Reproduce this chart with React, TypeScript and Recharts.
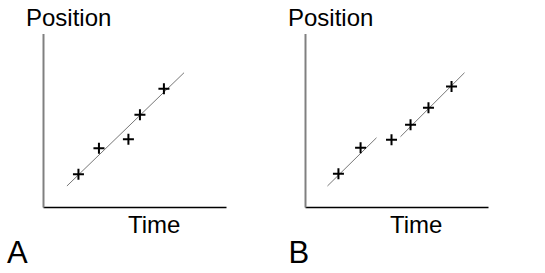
import React from 'react';
import { ComposedChart, Scatter, XAxis, YAxis, Label } from 'recharts';

// Panel A: measured points (time, position) and fitted line
const timeA = [1.91, 3.03, 4.64, 5.27, 6.58];
const posA = [1.91, 3.41, 3.93, 5.35, 6.85];
const fitTimeA = [1.28, 7.68];
const fitPosA = [1.24, 7.77];

// Panel B: measured points and two fitted segments
const timeB = [1.8, 3.01, 4.7, 5.74, 6.72, 7.98];
const posB = [1.94, 3.44, 3.9, 4.77, 5.75, 6.97];
const fitTimeB1 = [1.2, 3.88];
const fitPosB1 = [1.24, 4.02];
const fitTimeB2 = [5.19, 8.69];
const fitPosB2 = [4.08, 7.77];

const xLabel = 'Time';
const yLabel = 'Position';

const zip = (xs: number[], ys: number[]) => xs.map((x, i) => ({ t: x, p: ys[i] }));

const FONT = '"Liberation Sans", Arial, sans-serif';

const Plus = (props: any) => {
  const { cx, cy } = props;
  if (cx == null || cy == null) return <g />;
  return (
    <path
      d={`M${cx - 5.5},${cy}h11M${cx},${cy - 5.5}v11`}
      stroke="#000"
      strokeWidth={2}
      fill="none"
    />
  );
};

const NoShape = () => <g />;

type PanelProps = {
  points: { t: number; p: number }[];
  fits: { t: number; p: number }[][];
  letter: string;
  letterX: number;
};

const Panel = ({ points, fits, letter, letterX }: PanelProps) => (
  <ComposedChart
    width={272}
    height={273}
    margin={{ top: 34, right: 45.5, bottom: 60.5, left: 38.5 }}
  >
    <XAxis
      type="number"
      dataKey="t"
      domain={[0, 10]}
      height={5}
      tick={false}
      tickLine={false}
      axisLine={{ stroke: '#000', strokeWidth: 1.5 }}
    >
      <Label
        content={(p: any) => {
          const vb = p.viewBox || { x: 0, y: 0 };
          return (
            <g>
              <text x={vb.x + 84.5} y={vb.y + 25.5} fontFamily={FONT} fontSize={24} fill="#000">
                {xLabel}
              </text>
              <text x={letterX} y={vb.y + 55} fontFamily={FONT} fontSize={31} fill="#000">
                {letter}
              </text>
            </g>
          );
        }}
      />
    </XAxis>
    <YAxis
      type="number"
      dataKey="p"
      domain={[0, 10]}
      width={5}
      tick={false}
      tickLine={false}
      axisLine={{ stroke: '#808080', strokeWidth: 2 }}
    >
      <Label
        content={(p: any) => {
          const vb = p.viewBox || { x: 0, y: 0 };
          return (
            <text x={vb.x + vb.width - 17.5} y={vb.y - 8} fontFamily={FONT} fontSize={24} fill="#000">
              {yLabel}
            </text>
          );
        }}
      />
    </YAxis>
    {fits.map((f, i) => (
      <Scatter
        key={i}
        data={f}
        line={{ stroke: '#777', strokeWidth: 1 }}
        shape={NoShape}
        isAnimationActive={false}
      />
    ))}
    <Scatter data={points} shape={Plus} isAnimationActive={false} />
  </ComposedChart>
);

export default function App() {
  return (
    <div style={{ position: 'absolute', left: 0, top: 0, width: 545, height: 273, background: '#fff' }}>
      <div style={{ position: 'absolute', left: 0, top: 0 }}>
        <Panel points={zip(timeA, posA)} fits={[zip(fitTimeA, fitPosA)]} letter="A" letterX={7} />
      </div>
      <div style={{ position: 'absolute', left: 261.5, top: 0 }}>
        <Panel
          points={zip(timeB, posB)}
          fits={[zip(fitTimeB1, fitPosB1), zip(fitTimeB2, fitPosB2)]}
          letter="B"
          letterX={26.5}
        />
      </div>
    </div>
  );
}
